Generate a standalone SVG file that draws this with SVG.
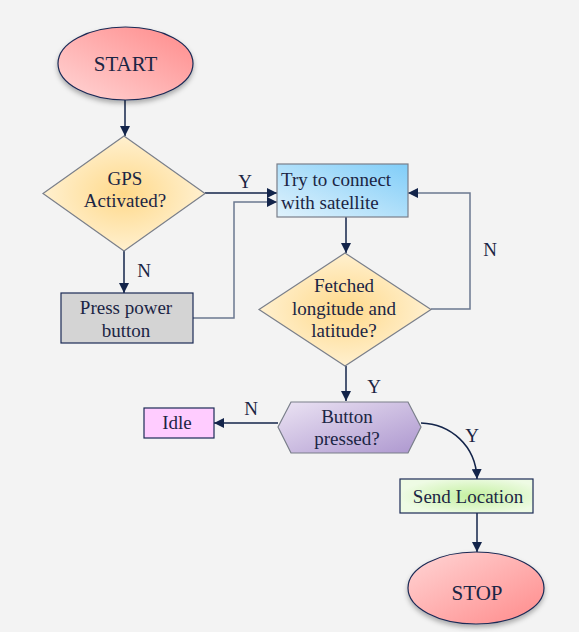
<svg xmlns="http://www.w3.org/2000/svg" width="579" height="632" viewBox="0 0 579 632">
<defs>
<linearGradient id="gRed" x1="0" y1="1" x2="1" y2="0">
<stop offset="0" stop-color="#ffd6d6"/><stop offset="1" stop-color="#ff8a8a"/>
</linearGradient>
<linearGradient id="gRed2" x1="0" y1="0" x2="1" y2="1">
<stop offset="0" stop-color="#ffd6d6"/><stop offset="1" stop-color="#ff8a8a"/>
</linearGradient>
<radialGradient id="gYel" cx="0.5" cy="0.5" r="0.5">
<stop offset="0" stop-color="#ffd98a"/><stop offset="1" stop-color="#fff0cf"/>
</radialGradient>
<linearGradient id="gBlue" x1="0" y1="1" x2="1" y2="0">
<stop offset="0" stop-color="#e0f2fc"/><stop offset="1" stop-color="#80cdf8"/>
</linearGradient>
<linearGradient id="gPur" x1="0" y1="0" x2="1" y2="1">
<stop offset="0" stop-color="#ebe3f3"/><stop offset="1" stop-color="#ad97cf"/>
</linearGradient>
<radialGradient id="gGrn" cx="0.55" cy="0.5" r="0.55">
<stop offset="0" stop-color="#c4f0a0"/><stop offset="1" stop-color="#eefbe4"/>
</radialGradient>
<filter id="sh" x="-20%" y="-20%" width="140%" height="150%">
<feDropShadow dx="0" dy="3" stdDeviation="2.5" flood-color="#000" flood-opacity="0.3"/>
</filter>
<marker id="ah" viewBox="0 0 10 10" refX="10" refY="5" markerWidth="10" markerHeight="10" markerUnits="userSpaceOnUse" orient="auto">
<path d="M0,0 L10,5 L0,10 Z" fill="#13244a"/>
</marker>
</defs>
<style>
text{fill:#1b2544;font-size:19px;}
.c{text-anchor:middle;}
.big{font-size:21px;}
.ln{fill:none;stroke:#13244a;stroke-width:1.5;}
.gl{fill:none;stroke:#6b7890;stroke-width:1.5;}
.ns{stroke:#1b2a55;stroke-width:1.2;}
.gs{stroke:#7a7f8a;stroke-width:1.2;}
</style>
<rect width="579" height="632" fill="#f3f3f3"/>
<g font-family="Liberation Serif, serif">
<g id="connectors">
<line class="ln" x1="125" y1="100" x2="125" y2="136" marker-end="url(#ah)"/>
<line class="ln" x1="205" y1="193" x2="277" y2="193" marker-end="url(#ah)"/>
<polyline class="gl" points="193,318 234,318 234,202 277,202" marker-end="url(#ah)"/>
<line class="ln" x1="124" y1="251" x2="124" y2="293" marker-end="url(#ah)"/>
<line class="ln" x1="346" y1="217" x2="346" y2="253" marker-end="url(#ah)"/>
<polyline class="gl" points="431,309 470,309 470,193 408,193" marker-end="url(#ah)"/>
<line class="ln" x1="346" y1="366" x2="346" y2="401" marker-end="url(#ah)"/>
<line class="ln" x1="278" y1="423" x2="214" y2="423" marker-end="url(#ah)"/>
<path class="ln" d="M421,423 C450,424 476,445 477,479" marker-end="url(#ah)"/>
<line class="ln" x1="477" y1="513" x2="477" y2="552" marker-end="url(#ah)"/>
<text class="c" x="245" y="188">Y</text>
<text class="c" x="144" y="277">N</text>
<text class="c" x="490" y="256">N</text>
<text class="c" x="374" y="393">Y</text>
<text class="c" x="251" y="415">N</text>
<text class="c" x="472" y="442">Y</text>
</g>

<g id="start">
<ellipse cx="125.5" cy="63.5" rx="67.5" ry="36.5" fill="url(#gRed)" class="ns" filter="url(#sh)"/>
<text class="c big" x="125.5" y="71">START</text>
</g>

<g id="gps">
<polygon points="124,136 205,193.5 124,251 43,193.5" fill="url(#gYel)" class="gs"/>
<text class="c" x="125" y="185">GPS</text>
<text class="c" x="125" y="207">Activated?</text>
</g>

<g id="press">
<rect x="61" y="293" width="132" height="50" fill="#d4d4d4" class="ns"/>
<text class="c" x="126" y="314">Press power</text>
<text class="c" x="126" y="337">button</text>
</g>

<g id="connect">
<rect x="277" y="164" width="131" height="53" fill="url(#gBlue)" class="gs"/>
<text x="281" y="186" font-size="19.5">Try to connect</text>
<text x="281" y="209" font-size="19.5">with satellite</text>
</g>

<g id="fetched">
<polygon points="345,253 431,309.5 345,366 259,309.5" fill="url(#gYel)" class="gs"/>
<text class="c" x="344" y="292">Fetched</text>
<text class="c" x="344" y="315">longitude and</text>
<text class="c" x="344" y="337">latitude?</text>
</g>

<g id="button">
<polygon points="291,402 408,402 421,427 408,453 291,453 278,427" fill="url(#gPur)" class="gs"/>
<text class="c" x="347" y="423">Button</text>
<text class="c" x="347" y="445">pressed?</text>
</g>

<g id="idle">
<rect x="144" y="408" width="70" height="30" fill="#ffccff" class="ns"/>
<text class="c" x="177" y="429">Idle</text>
</g>

<g id="send">
<rect x="400" y="479" width="133" height="34" fill="url(#gGrn)" class="ns"/>
<text class="c" x="468" y="503">Send Location</text>
</g>

<g id="stop">
<ellipse cx="476" cy="588" rx="68" ry="36" fill="url(#gRed2)" class="ns" filter="url(#sh)"/>
<text class="c big" x="477" y="600">STOP</text>
</g>
</g>
</svg>
